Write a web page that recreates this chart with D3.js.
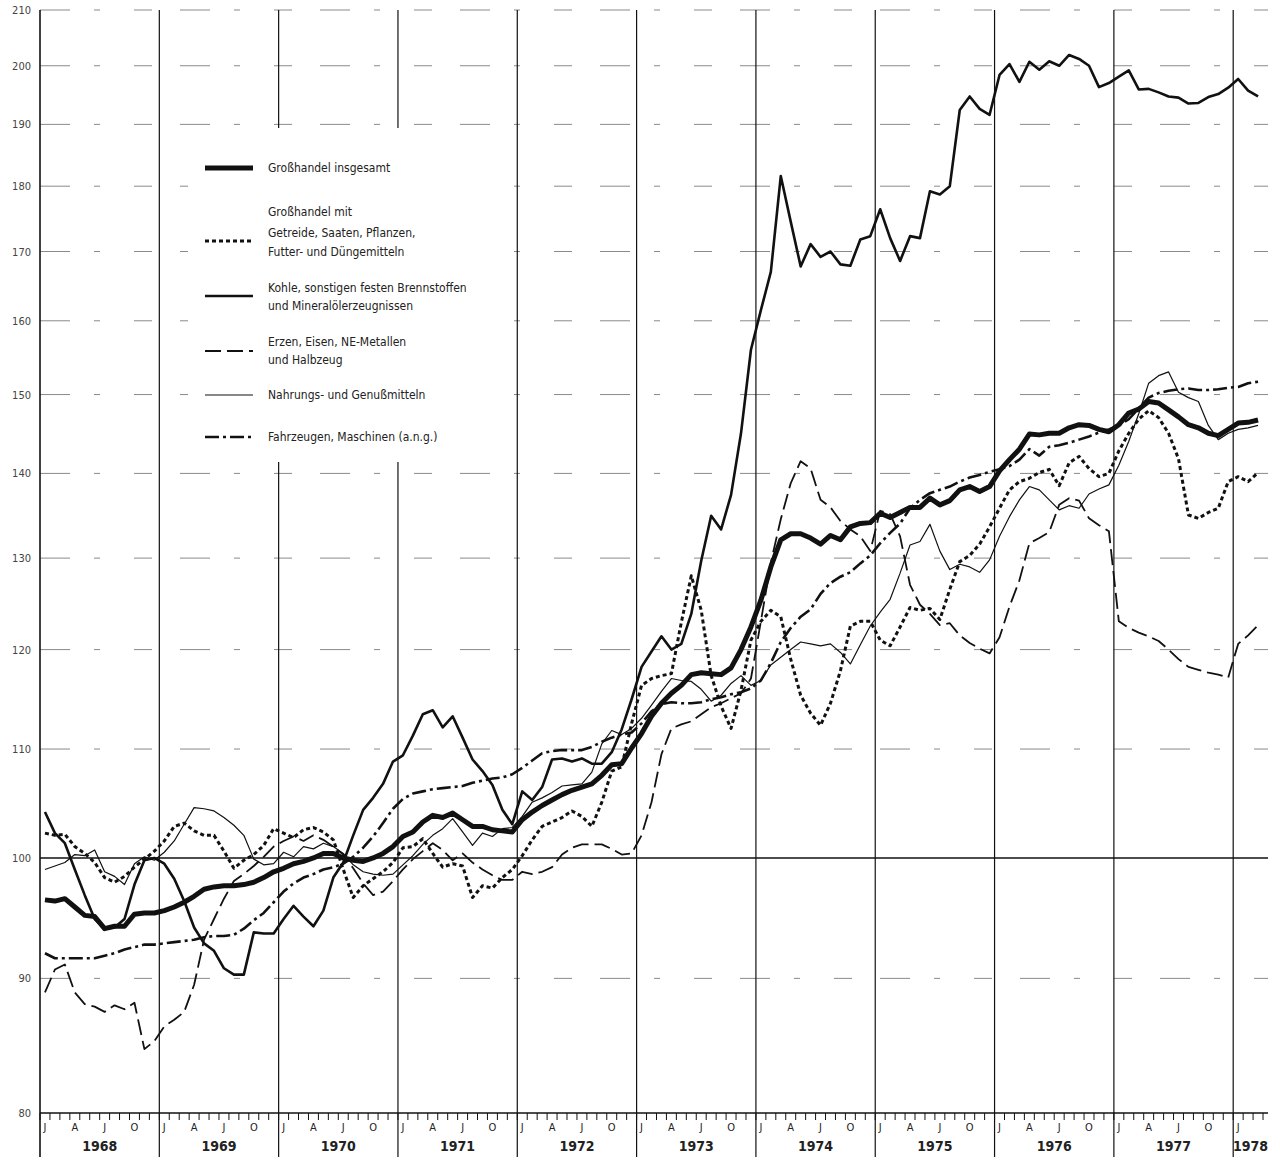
<!DOCTYPE html>
<html>
<head>
<meta charset="utf-8">
<script src="https://cdn.jsdelivr.net/npm/d3@7"></script>
<style>
  body { margin: 0; background: #fff; }
  text { font-family: "Liberation Sans Narrow", "DejaVu Sans Condensed", "Roboto", sans-serif; fill: #222; }
</style>
</head>
<body>
<svg width="1280" height="1163"></svg>
<script>
// Index 1970 = 100, monthly Jan 1968 .. Mar 1978
var years = [1968, 1969, 1970, 1971, 1972, 1973, 1974, 1975, 1976, 1977, 1978];
var monthLetters = {0: "J", 3: "A", 6: "J", 9: "O"};
var yTicks = [80, 90, 100, 110, 120, 130, 140, 150, 160, 170, 180, 190, 200, 210];

// Großhandel insgesamt
var gesamt = [
  96.4, 96.3, 96.5, 95.8, 95.1, 95.0, 94.0, 94.2, 94.2, 95.2, 95.3, 95.3,
  95.5, 95.8, 96.2, 96.7, 97.3, 97.5, 97.6, 97.6, 97.7, 97.9, 98.3, 98.8,
  99.1, 99.5, 99.7, 100.0, 100.4, 100.4, 100.0, 99.8, 99.7, 100.0, 100.4, 101.0,
  101.9, 102.3, 103.2, 103.8, 103.6, 104.0, 103.4, 102.8, 102.8, 102.5, 102.4, 102.3,
  103.4, 104.1, 104.7, 105.2, 105.7, 106.1, 106.4, 106.7, 107.5, 108.5, 108.6, 110.1,
  111.5, 113.2, 114.5, 115.5, 116.3, 117.4, 117.6, 117.5, 117.4, 118.1, 120.0, 122.4,
  125.3, 129.0, 132.1, 132.8, 132.8, 132.3, 131.6, 132.6, 132.1, 133.6, 134.0, 134.1,
  135.2, 134.7, 135.3, 135.9, 135.9, 137.0, 136.2, 136.7, 138.0, 138.4, 137.8, 138.4,
  140.3, 141.7, 143.0, 144.9, 144.8, 145.0, 145.0, 145.7, 146.1, 146.0, 145.5, 145.2,
  146.1, 147.6, 148.1, 149.1, 148.9, 148.0, 147.1, 146.1, 145.7, 145.0, 144.7, 145.5,
  146.3, 146.4, 146.7
];

// Getreide, Saaten, Pflanzen, Futter- und Düngemitteln
var getreide = [
  102.2, 102.0, 102.1, 101.0, 100.4, 99.6, 98.3, 97.9, 98.4, 99.2, 99.9, 100.6,
  101.5, 102.8, 103.1, 102.4, 102.0, 102.0, 100.6, 99.1, 99.8, 100.3, 101.1, 102.6,
  102.2, 101.8, 102.5, 102.7, 102.3, 101.6, 99.0, 96.6, 97.6, 98.2, 98.8, 99.6,
  100.9, 101.0, 101.7, 100.4, 99.2, 99.5, 99.3, 96.6, 97.6, 97.4, 98.3, 99.0,
  100.2, 101.6, 102.8, 103.2, 103.6, 104.2, 103.7, 102.8, 105.0, 107.9, 108.3, 112.5,
  116.3, 117.0, 117.3, 117.5, 122.9, 128.0, 124.2, 117.3, 114.2, 112.0, 115.8, 121.0,
  123.0, 124.2, 123.5, 119.0, 115.3, 113.5, 112.3, 114.5, 117.8, 122.5, 123.0, 123.0,
  121.0, 120.4, 122.4, 124.5, 124.2, 124.4, 123.2, 126.5, 129.6, 130.3, 131.6, 133.6,
  135.8, 138.0, 139.0, 139.4, 140.1, 140.5, 138.5, 141.3, 142.1, 140.6, 139.6, 140.0,
  142.8, 145.0, 146.8, 147.9, 147.0, 145.0, 141.8, 135.0, 134.6, 135.3, 135.8, 139.0,
  139.6, 139.0, 140.1
];

// Kohle, sonstigen festen Brennstoffen und Mineralölerzeugnissen
var kohle = [
  104.1, 102.2, 101.3, 99.0, 96.8, 94.8, 94.0, 94.1, 94.8, 97.7, 99.8, 100.0,
  99.5, 98.2, 96.3, 94.1, 92.8, 92.2, 90.8, 90.3, 90.3, 93.7, 93.6, 93.6,
  94.8, 95.9, 95.0, 94.2, 95.5, 98.3, 99.6, 102.0, 104.3, 105.4, 106.7, 108.8,
  109.4, 111.3, 113.4, 113.8, 112.1, 113.2, 111.1, 109.0, 107.9, 106.6, 104.3, 103.0,
  106.0, 105.2, 106.4, 109.0, 109.1, 108.8, 109.1, 108.6, 108.6, 109.7, 111.9, 114.9,
  118.2, 119.8, 121.4, 120.0, 120.6, 123.8, 129.7, 134.9, 133.3, 137.4, 145.0, 156.0,
  161.5, 167.0, 181.6, 174.5, 167.8, 171.1, 169.2, 170.0, 168.1, 167.9, 171.8, 172.3,
  176.4, 172.0, 168.6, 172.3, 172.0, 179.2, 178.7, 180.0, 192.4, 194.7, 192.6, 191.6,
  198.4, 200.3, 197.2, 200.7, 199.3, 200.8, 200.0, 201.9, 201.2, 200.0, 196.3, 197.0,
  198.1, 199.2, 195.9, 196.0, 195.4, 194.7, 194.5, 193.5, 193.6, 194.6, 195.1, 196.2,
  197.7, 195.7, 194.7
];

// Erzen, Eisen, NE-Metallen und Halbzeug
var erzen = [
  88.9, 90.7, 91.1, 88.9, 88.0, 87.8, 87.4, 87.9, 87.6, 88.1, 84.6, 85.2,
  86.3, 86.8, 87.4, 89.5, 93.1, 94.8, 96.5, 98.0, 98.6, 99.3, 100.1, 101.0,
  101.5, 101.9, 101.5, 102.0, 101.6, 101.0, 100.3, 99.1, 97.8, 96.8, 97.1, 98.0,
  99.0, 99.9, 100.6, 101.3, 100.7, 99.8, 100.4, 99.6, 99.0, 98.5, 98.1, 98.1,
  98.8, 98.6, 98.8, 99.2, 100.3, 100.9, 101.2, 101.2, 101.2, 100.8, 100.3, 100.4,
  102.0, 105.0, 109.5, 112.0, 112.4, 112.7, 113.4, 114.1, 114.5, 115.0, 115.5, 117.0,
  123.0, 129.5, 134.5, 138.8, 141.5, 140.6, 136.8, 135.9, 134.3, 133.3, 132.5, 130.8,
  135.5, 135.1, 132.5, 127.0, 124.8, 123.8, 122.6, 122.8, 121.5, 120.7, 120.1, 119.6,
  121.3, 124.6, 127.5, 131.7, 132.3, 133.0, 136.2, 137.0, 136.7, 134.6, 133.8, 133.1,
  123.0, 122.3, 121.8, 121.4, 120.9, 120.0, 119.0, 118.2, 117.9, 117.6, 117.4, 117.1,
  120.6, 121.5, 122.6
];

// Nahrungs- und Genußmitteln
var nahrung = [
  99.0, 99.3, 99.6, 100.3, 100.2, 100.7, 98.8, 98.4, 97.7, 99.5, 100.1, 99.8,
  100.5, 101.5, 103.0, 104.5, 104.4, 104.2, 103.6, 102.9, 102.0, 99.9, 99.4, 99.5,
  100.5, 100.1, 101.0, 100.8, 101.3, 101.0, 100.4, 99.4, 98.8, 98.6, 98.5, 98.6,
  99.4, 100.2, 101.2, 102.0, 102.6, 103.5, 102.3, 101.1, 102.2, 101.9, 102.6, 102.7,
  103.7, 105.0, 105.4, 105.9, 106.5, 106.6, 106.7, 107.8, 110.5, 111.8, 111.4, 112.0,
  113.0, 114.3, 115.7, 117.0, 116.8, 116.7, 115.9, 114.7, 115.3, 116.5, 117.3, 116.3,
  116.8, 118.4, 119.2, 120.0, 120.8, 120.6, 120.4, 120.6, 119.7, 118.5, 120.5, 122.5,
  124.0, 125.4, 128.3, 131.5, 131.9, 133.9, 130.8, 128.7, 129.3, 129.0, 128.4, 129.8,
  132.5, 134.8, 136.8, 138.4, 138.0, 136.8, 135.6, 136.1, 135.8, 137.5, 138.1, 138.6,
  141.0, 144.0, 147.5, 151.5, 152.5, 153.0, 150.3, 149.6, 149.1, 146.0, 144.2, 145.0,
  145.5, 145.7, 146.0
];

// Fahrzeugen, Maschinen (a.n.g.)
var fahrzeuge = [
  92.0, 91.6, 91.6, 91.6, 91.6, 91.6, 91.8, 92.0, 92.3, 92.5, 92.7, 92.7,
  92.8, 92.9, 93.0, 93.1, 93.3, 93.4, 93.4, 93.5, 94.0, 94.7, 95.3, 96.2,
  97.1, 97.8, 98.3, 98.6, 99.0, 99.2, 99.5, 100.1, 100.9, 101.9, 103.1, 104.4,
  105.3, 105.8, 106.0, 106.2, 106.3, 106.4, 106.5, 106.8, 107.0, 107.2, 107.3, 107.6,
  108.2, 108.9, 109.6, 109.8, 109.9, 109.9, 109.9, 110.2, 110.7, 111.1, 111.4, 111.6,
  112.5, 113.7, 114.4, 114.6, 114.5, 114.5, 114.6, 114.9, 115.1, 115.4, 115.6, 116.0,
  116.8, 118.6, 120.8, 122.3, 123.5, 124.3, 126.0, 127.2, 127.9, 128.4, 129.4, 130.3,
  131.7, 132.9, 134.0, 135.8, 136.8, 137.6, 138.0, 138.4, 139.0, 139.5, 139.8, 140.2,
  140.5, 140.9, 141.7, 143.0, 142.2, 143.3, 143.5, 143.8, 144.2, 144.6, 145.1, 145.5,
  146.0, 146.8, 148.2, 149.6, 150.2, 150.5, 150.7, 150.8, 150.6, 150.6, 150.7, 150.9,
  151.0, 151.5, 151.7
];

var series = [
  {name: "nahrung",   values: nahrung,   width: 1.2, dash: null},
  {name: "erzen",     values: erzen,     width: 1.8, dash: "16,6"},
  {name: "getreide",  values: getreide,  width: 3,   dash: "4,3"},
  {name: "fahrzeuge", values: fahrzeuge, width: 2.6, dash: "14,4,3,4"},
  {name: "kohle",     values: kohle,     width: 2.6, dash: null},
  {name: "gesamt",    values: gesamt,    width: 5,   dash: null}
];

var svg = d3.select("svg");
var plotLeft = 40, plotRight = 1268, plotTop = 10, plotBottom = 1113;

var x = d3.scaleLinear().domain([0, 123.5]).range([plotLeft, plotRight]);
var y = d3.scaleLog().domain([80, 210]).range([plotBottom, plotTop]);

// horizontal grid (broken, light, like the faint printed rules)
svg.append("g")
  .selectAll("line")
  .data(yTicks.filter(function(d) { return d !== 80 && d !== 100; }))
  .enter().append("line")
    .attr("x1", plotLeft).attr("x2", plotRight)
    .attr("y1", function(d) { return y(d); })
    .attr("y2", function(d) { return y(d); })
    .attr("stroke", "#8a8a8a")
    .attr("stroke-width", 1)
    .attr("stroke-dasharray", "30,24,6,34,18,28");

// 100 line
svg.append("line")
  .attr("x1", plotLeft).attr("x2", plotRight)
  .attr("y1", y(100)).attr("y2", y(100))
  .attr("stroke", "#111").attr("stroke-width", 1.6);

// year separators
svg.append("g")
  .selectAll("line")
  .data(years)
  .enter().append("line")
    .attr("x1", function(d, i) { return x(i * 12); })
    .attr("x2", function(d, i) { return x(i * 12); })
    .attr("y1", plotTop).attr("y2", 1157)
    .attr("stroke", "#111")
    .attr("stroke-width", function(d, i) { return i === 0 ? 1.6 : 1.2; });

// y axis labels
svg.append("g")
  .selectAll("text")
  .data(yTicks)
  .enter().append("text")
    .attr("x", 31)
    .attr("y", function(d) { return y(d) + 4; })
    .attr("text-anchor", "end")
    .attr("font-size", 11)
    .style("fill", "#444")
    .text(function(d) { return d; });

// bottom axis with month ticks
svg.append("line")
  .attr("x1", plotLeft).attr("x2", plotRight)
  .attr("y1", plotBottom).attr("y2", plotBottom)
  .attr("stroke", "#111").attr("stroke-width", 1.6);

svg.append("g")
  .selectAll("line")
  .data(d3.range(0, 124))
  .enter().append("line")
    .attr("x1", function(d) { return x(d); })
    .attr("x2", function(d) { return x(d); })
    .attr("y1", plotBottom).attr("y2", plotBottom + 7)
    .attr("stroke", "#111").attr("stroke-width", 1);

var monthIdx = d3.range(0, 123).filter(function(m) { return monthLetters[m % 12] !== undefined; });
svg.append("g")
  .selectAll("text")
  .data(monthIdx)
  .enter().append("text")
    .attr("x", function(d) { return x(d + 0.5); })
    .attr("y", 1131)
    .attr("text-anchor", "middle")
    .attr("font-size", 11)
    .text(function(d) { return monthLetters[d % 12]; });

svg.append("g")
  .selectAll("text")
  .data(years)
  .enter().append("text")
    .attr("x", function(d, i) { return i < 10 ? x(i * 12 + 6) : (x(120) + plotRight) / 2; })
    .attr("y", 1151)
    .attr("text-anchor", "middle")
    .attr("font-size", 14)
    .attr("font-weight", "bold")
    .text(function(d) { return d; });

// data lines
var line = d3.line()
  .x(function(d, i) { return x(i + 0.5); })
  .y(function(d) { return y(d); });

svg.append("g")
  .selectAll("path")
  .data(series)
  .enter().append("path")
    .attr("d", function(s) { return line(s.values); })
    .attr("fill", "none")
    .attr("stroke", "#111")
    .attr("stroke-width", function(s) { return s.width; })
    .attr("stroke-dasharray", function(s) { return s.dash; })
    .attr("stroke-linejoin", "round");

// legend (white box masks the grid behind it)
var legend = [
  {key: "gesamt",    y: 168, lines: [{t: "Großhandel insgesamt", dy: 0}]},
  {key: null,        y: 212, lines: [{t: "Großhandel mit", dy: 0}]},
  {key: "getreide",  y: 241, lines: [{t: "Getreide, Saaten, Pflanzen,", dy: -8}, {t: "Futter- und Düngemitteln", dy: 11}]},
  {key: "kohle",     y: 296, lines: [{t: "Kohle, sonstigen festen Brennstoffen", dy: -8}, {t: "und Mineralölerzeugnissen", dy: 10}]},
  {key: "erzen",     y: 351, lines: [{t: "Erzen, Eisen, NE-Metallen", dy: -9}, {t: "und Halbzeug", dy: 9}]},
  {key: "nahrung",   y: 395, lines: [{t: "Nahrungs- und Genußmitteln", dy: 0}]},
  {key: "fahrzeuge", y: 437, lines: [{t: "Fahrzeugen, Maschinen (a.n.g.)", dy: 0}]}
];

var lg = svg.append("g");
lg.append("rect")
  .attr("x", 188).attr("y", 128)
  .attr("width", 322).attr("height", 334)
  .attr("fill", "#fff");

legend.forEach(function(item) {
  var s = series.find(function(d) { return d.name === item.key; });
  if (s) {
    lg.append("line")
      .attr("x1", 205).attr("x2", 253)
      .attr("y1", item.y).attr("y2", item.y)
      .attr("stroke", "#111")
      .attr("stroke-width", s.width)
      .attr("stroke-dasharray", s.dash);
  }
  item.lines.forEach(function(l) {
    lg.append("text")
      .attr("x", 268)
      .attr("y", item.y + l.dy + 4)
      .attr("font-size", 12)
      .text(l.t);
  });
});
</script>
</body>
</html>
